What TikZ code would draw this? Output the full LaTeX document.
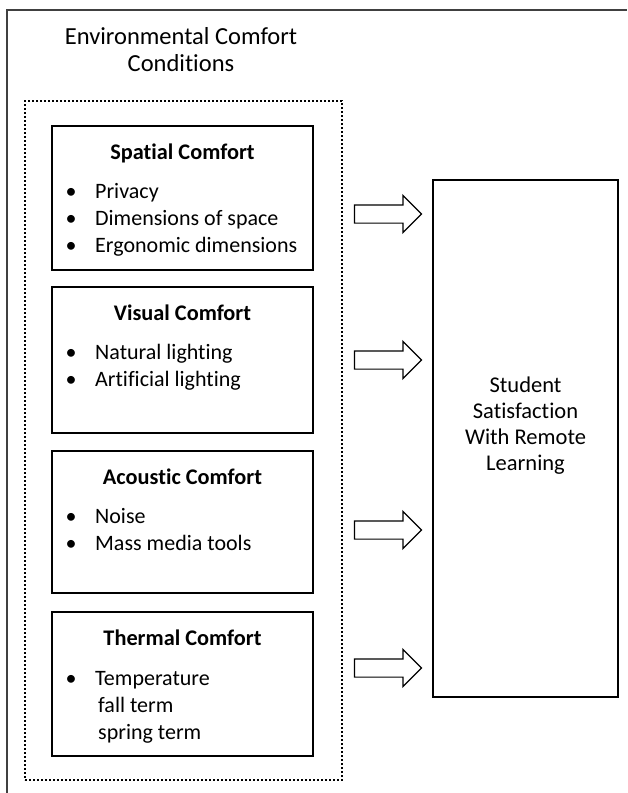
\documentclass[tikz,border=0pt]{standalone}
\usepackage{fontspec}
\setmainfont{Carlito}[Ligatures=CommonOff]
\usepackage{tikz}
\usetikzlibrary{shapes.arrows}

\newcommand{\bitem}[1]{\makebox[29.7pt][l]{\textbullet}#1}

\tikzset{
  pagefrm/.style={line width=1.6pt, draw=black!75},
  groupbox/.style={draw, line width=2pt, dash pattern=on 2pt off 2pt,
                   minimum width=317pt, minimum height=679pt, inner sep=0pt},
  comfortbox/.style={draw, line width=1.3pt, minimum width=261pt, inner sep=0pt},
  targetbox/.style={draw, line width=1.8pt, minimum width=185pt,
                    minimum height=517pt, inner sep=0pt},
  blockarrow/.style={draw, line width=1.2pt, single arrow,
                     single arrow head extend=9.5pt, single arrow tip angle=90,
                     single arrow head indent=0pt, minimum height=67pt,
                     text height=8.5pt, text depth=8.5pt, inner sep=0pt},
  boxhead/.style={font=\fontsize{22.3}{28}\selectfont\bfseries, anchor=mid, inner sep=0pt},
  boxitem/.style={anchor=mid west, inner sep=0pt},
  plaintext/.style={align=center, inner sep=0pt}
}

\begin{document}
\begin{tikzpicture}[x=1pt, y=-1pt, font=\fontsize{22}{27}\selectfont]
\useasboundingbox (0,0) rectangle (627,793);

% frame of the page
\draw[pagefrm] (7,793) -- (7,10) -- (627,10);

\node[plaintext, font=\fontsize{24.5}{27}\selectfont] (title) at (181,50)
  {Environmental Comfort\\Conditions};

% dotted group and the four comfort boxes
\node[groupbox] (conditions) at (183.5,440.5) {};

\node[comfortbox, minimum height=144pt] (spatial) at (182.5,198) {};
\node[boxhead] (spatialhead) at (182.5,157) {Spatial Comfort};
\node[boxitem] (spatial1) at (65.3,196) {\bitem{Privacy}};
\node[boxitem] (spatial2) at (65.3,223) {\bitem{Dimensions of space}};
\node[boxitem] (spatial3) at (65.3,250) {\bitem{Ergonomic dimensions}};

\node[comfortbox, minimum height=146pt] (visual) at (182.5,360) {};
\node[boxhead] (visualhead) at (182.5,318) {Visual Comfort};
\node[boxitem] (visual1) at (65.3,357) {\bitem{Natural lighting}};
\node[boxitem] (visual2) at (65.3,384) {\bitem{Artificial lighting}};

\node[comfortbox, minimum height=142pt] (acoustic) at (182.5,522) {};
\node[boxhead] (acoustichead) at (182.5,482) {Acoustic Comfort};
\node[boxitem] (acoustic1) at (65.3,521) {\bitem{Noise}};
\node[boxitem] (acoustic2) at (65.3,548) {\bitem{Mass media tools}};

\node[comfortbox, minimum height=144pt] (thermal) at (182.5,684) {};
\node[boxhead] (thermalhead) at (182.5,643) {Thermal Comfort};
\node[boxitem] (thermal1) at (65.3,683) {\bitem{Temperature}};
\node[boxitem] (thermal2) at (98,710) {fall term};
\node[boxitem] (thermal3) at (98,737) {spring term};

% outcome
\node[targetbox] (student) at (525.5,438.5) {};
\node[plaintext, font=\fontsize{22.5}{26}\selectfont] (studenttext) at (525.5,426)
  {Student\\Satisfaction\\With Remote\\Learning};

% block arrows
\node[blockarrow] (arr1) at (383.5,214) {};
\node[blockarrow] (arr2) at (383.5,360) {};
\node[blockarrow] (arr3) at (383.5,530) {};
\node[blockarrow] (arr4) at (383.5,668) {};
\end{tikzpicture}
\end{document}
